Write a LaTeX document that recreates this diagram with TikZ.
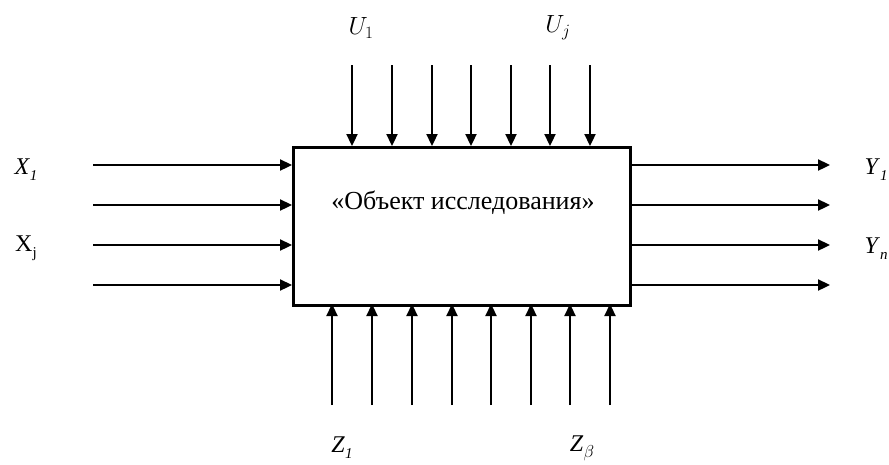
\documentclass[tikz,border=0pt]{standalone}
\usepackage{fontspec}
\setmainfont{Liberation Serif}
\usetikzlibrary{arrows.meta}
\begin{document}
\begin{tikzpicture}[x=1pt,y=-1pt,
  flow/.style={line width=2.3pt,-{Triangle[length=12pt,width=11pt]}},
  lbl/.style={font=\fontsize{24}{26}\selectfont,inner sep=0pt}]
\newcommand{\sbx}[1]{\raisebox{-0.25em}{\fontsize{15}{16}\selectfont #1}}
\useasboundingbox (0,0) rectangle (889,464);
\node[draw,line width=3.4pt,minimum width=337pt,minimum height=158pt,anchor=north west,inner sep=0pt] (box) at (292,146) {};
\node[font=\fontsize{26}{28}\selectfont,inner sep=0pt] (t) at (463,203) {«Объект исследования»};
% inputs X and outputs Y
\foreach \y [count=\i] in {165,205,245,285} {
  \coordinate (xs\i) at (93,\y);
  \coordinate (xe\i) at (292,\y);
  \draw[flow] (xs\i) -- (xe\i);
  \coordinate (ys\i) at (629,\y);
  \coordinate (ye\i) at (830,\y);
  \draw[flow] (ys\i) -- (ye\i);
}
% top U arrows
\foreach \x [count=\i] in {352,392,432,471,511,550,590} {
  \coordinate (us\i) at (\x,65);
  \coordinate (ue\i) at (\x,146);
  \draw[flow] (us\i) -- (ue\i);
}
% bottom Z arrows
\foreach \x [count=\i] in {332,372,412,452,491,531,570,610} {
  \coordinate (zs\i) at (\x,405);
  \coordinate (ze\i) at (\x,304);
  \draw[flow] (zs\i) -- (ze\i);
}
\node[lbl] (X1) at (26,170) {\textit{X}\sbx{\textit{1}}};
\node[lbl] (Xj) at (26,248) {X\sbx{j}};
\node[lbl] (Y1) at (876,170) {\textit{Y}\sbx{\textit{1}}};
\node[lbl] (Yn) at (876,249) {\textit{Y}\sbx{\textit{n}}};
\node[lbl] (U1) at (361,28) {$U_1$};
\node[lbl] (Uj) at (558,28) {$U_j$};
\node[lbl] (Z1) at (342,448) {\textit{Z}\sbx{\textit{1}}};
\node[lbl] (Zb) at (582,448) {\textit{Z}\sbx{\fontsize{18}{18}\selectfont$\beta$}};
\end{tikzpicture}
\end{document}
